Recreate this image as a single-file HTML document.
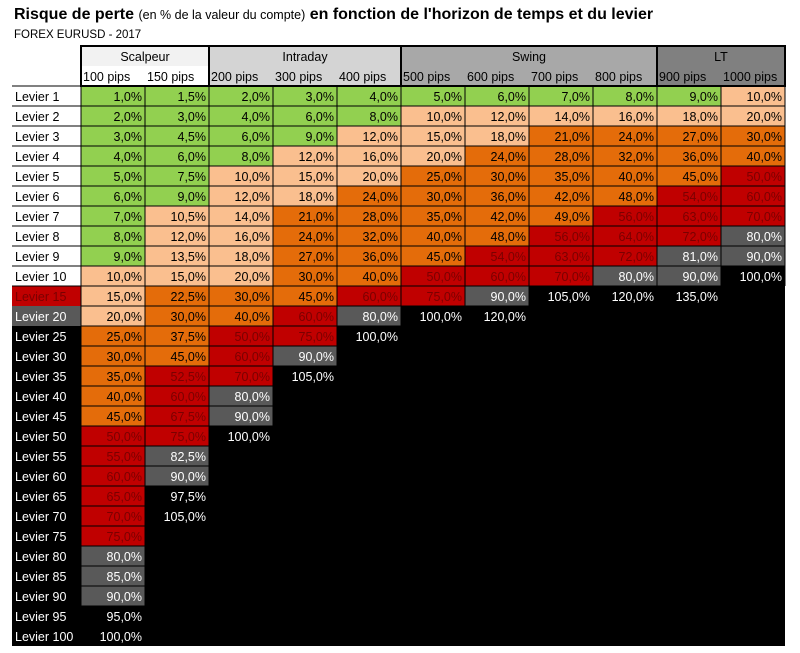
<!DOCTYPE html>
<html><head><meta charset="utf-8"><style>
body{margin:0;background:#fff;width:800px;height:648px;overflow:hidden;font-family:"Liberation Sans",sans-serif}
svg text{font-family:"Liberation Sans",sans-serif}
</style></head><body>
<svg id="chart" width="800" height="648" xmlns="http://www.w3.org/2000/svg">
<text x="14" y="19" font-size="16" font-weight="bold">Risque de perte <tspan font-weight="normal" font-size="12.5">(en % de la valeur du compte)</tspan> en fonction de l'horizon de temps et du levier</text>
<text x="14" y="38" font-size="11.5">FOREX EURUSD - 2017</text>
</svg>
<script>
const groups=["Scalpeur","Intraday","Swing","LT"];
const groupSpans=[2,3,4,2];
const pips=["100 pips","150 pips","200 pips","300 pips","400 pips","500 pips","600 pips","700 pips","800 pips","900 pips","1000 pips"];
const leviers=[1,2,3,4,5,6,7,8,9,10,15,20,25,30,35,40,45,50,55,60,65,70,75,80,85,90,95,100];
const values=[
[1,1.5,2,3,4,5,6,7,8,9,10],
[2,3,4,6,8,10,12,14,16,18,20],
[3,4.5,6,9,12,15,18,21,24,27,30],
[4,6,8,12,16,20,24,28,32,36,40],
[5,7.5,10,15,20,25,30,35,40,45,50],
[6,9,12,18,24,30,36,42,48,54,60],
[7,10.5,14,21,28,35,42,49,56,63,70],
[8,12,16,24,32,40,48,56,64,72,80],
[9,13.5,18,27,36,45,54,63,72,81,90],
[10,15,20,30,40,50,60,70,80,90,100],
[15,22.5,30,45,60,75,90,105,120,135],
[20,30,40,60,80,100,120],
[25,37.5,50,75,100],
[30,45,60,90],
[35,52.5,70,105],
[40,60,80],
[45,67.5,90],
[50,75,100],
[55,82.5],
[60,90],
[65,97.5],
[70,105],
[75],[80],[85],[90],[95],[100]];
const svg=document.getElementById('chart');
const NS='http://www.w3.org/2000/svg';
const X0=12,LW=69,CW=64,Y0=86,RH=20;
function cx(i){return X0+LW+i*CW;}
function ry(r){return Y0+r*RH;}
function el(t,a,p){const e=document.createElementNS(NS,t);for(const k in a)e.setAttribute(k,a[k]);(p||svg).appendChild(e);return e;}
function color(v){
 if(v<10)return['#92d050','#000'];
 if(v<=20)return['#fabf8f','#000'];
 if(v<50)return['#e46c0a','#000'];
 if(v<80)return['#c00000','#7a0000'];
 if(v<95)return['#595959','#fff'];
 return['#000','#fff'];
}
const gBg=['#f2f2f2','#d4d4d4','#a8a8a8','#808080'];
const pBg=['#fff','#d4d4d4','#a8a8a8','#808080'];
const bodyBg=el('rect',{x:X0+LW,y:Y0+10*RH,width:CW*11,height:RH*18,fill:'#000'});


let c=0;
groups.forEach((g,gi)=>{
 const x=cx(c),w=groupSpans[gi]*CW;
 const r=el('rect',{x:x,y:46,width:w,height:20,fill:gBg[gi]});
 
 
 const r2=el('rect',{x:x,y:66,width:w,height:20,fill:pBg[gi]});
 
 
 const t=el('text',{x:x+w/2,y:61,'font-size':12.5,'text-anchor':'middle'});
 t.textContent=g;
 
 
 c+=groupSpans[gi];
});
pips.forEach((p,i)=>{
 const t=el('text',{x:cx(i)+2,y:81,'font-size':12.5});
 t.textContent=p;
 
 
});
leviers.forEach((lv,r)=>{
 const y=ry(r);
 let lbg='#fff',lfg='#000';
 if(lv===15){lbg='#c00000';lfg='#7a0000';}
 else if(lv===20){lbg='#595959';lfg='#fff';}
 else if(lv>20){lbg='#000';lfg='#fff';}
 const lr=el('rect',{x:X0,y:y,width:LW,height:RH,fill:lbg});
 
 
 const lt=el('text',{x:X0+3,y:y+15,'font-size':12.5,fill:lfg});
 lt.textContent='Levier '+lv;
 
 
 values[r].forEach((v,i)=>{
  const [bg,fg]=color(v);
  const cell=el('rect',{x:cx(i),y:y,width:CW,height:RH,fill:bg,stroke:bg==='#000'?'none':'#000','stroke-width':1});
  
  
  const t=el('text',{x:cx(i)+CW-3,y:y+15,'font-size':12.5,'text-anchor':'end',fill:fg});
  t.textContent=v.toFixed(1).replace('.',',')+'%';
  
  
 });
});
for(let r=0;r<=10;r++){const l=el('line',{x1:X0,x2:cx(11),y1:ry(r),y2:ry(r),stroke:'#000','stroke-width':1});}
for(let i=0;i<=11;i++){const l=el('line',{x1:cx(i),x2:cx(i),y1:86,y2:ry(10),stroke:'#000','stroke-width':1});}
c=0;
groups.forEach((g,gi)=>{
 const b=el('rect',{x:cx(c),y:46,width:groupSpans[gi]*CW,height:40,fill:'none',stroke:'#000','stroke-width':2});
 
 
 c+=groupSpans[gi];
});
</script>
</body></html>
